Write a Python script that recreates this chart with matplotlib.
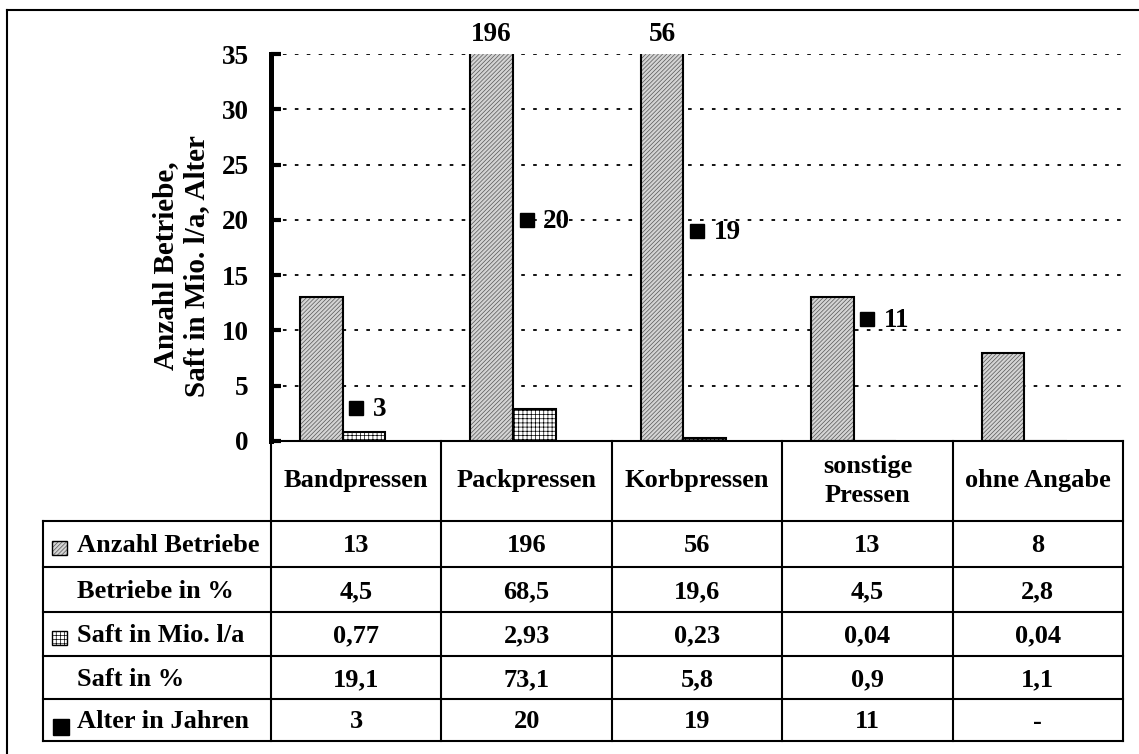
import matplotlib.pyplot as plt
import numpy as np
from matplotlib.patches import Rectangle
from matplotlib.lines import Line2D
from matplotlib import transforms

# data
categories = ['Bandpressen', 'Packpressen', 'Korbpressen', 'sonstige\nPressen', 'ohne Angabe']
anzahl = [13, 196, 56, 13, 8]
betriebe_pct = [4.5, 68.5, 19.6, 4.5, 2.8]
saft = [0.77, 2.93, 0.23, 0.04, 0.04]
saft_pct = [19.1, 73.1, 5.8, 0.9, 1.1]
alter = [3, 20, 19, 11, np.nan]
yticks = [0, 5, 10, 15, 20, 25, 30, 35]
row_labels = ['Anzahl Betriebe', 'Betriebe in %', 'Saft in Mio. l/a', 'Saft in %', 'Alter in Jahren']

plt.rcParams['font.family'] = ['Liberation Serif', 'DejaVu Serif']
plt.rcParams['font.weight'] = 'bold'
plt.rcParams['hatch.linewidth'] = 0.5

W, H = 1139, 754
fig = plt.figure(figsize=(W / 100, H / 100), dpi=100)


def fx(px):
    return px / W


def fy(py):
    return 1 - py / H


ax = fig.add_axes([fx(271), fy(441), fx(1123) - fx(271), fy(54) - fy(441)])
ax.set_xlim(-0.5, 4.5)
ax.set_ylim(0, 35)
x = np.arange(len(categories))
bw = 0.25

# grid
ax.set_yticks(yticks)
ax.yaxis.grid(True, linestyle=(0, (2.0, 4.6)), linewidth=1.3, color='black')
ax.set_axisbelow(True)

# bars (hatch drawn first, black outline on top)
pat_a = dict(facecolor='#d4d4d4', edgecolor='#555555', hatch='////////', linewidth=0)
pat_s = dict(facecolor='white', edgecolor='black', hatch='++++', linewidth=0)
ax.bar(x - 0.33, anzahl, bw, align='edge', **pat_a)
ax.bar(x - 0.33, anzahl, bw, align='edge', fill=False, edgecolor='black', linewidth=1.5)
ax.bar(x - 0.08, saft, bw, align='edge', **pat_s)
ax.bar(x - 0.08, saft, bw, align='edge', fill=False, edgecolor='black', linewidth=1.5)

# values above clipped bars
for xi, v in zip(x, anzahl):
    if v > 35:
        ax.annotate(str(v), (xi - 0.33 + bw / 2, 35), xytext=(0, 5), textcoords='offset points',
                    ha='center', va='bottom', fontsize=19.5, annotation_clip=False)

# Alter markers
ax.plot(x, alter, 's', color='black', markersize=10, zorder=4)
for xi, v in zip(x, alter):
    if not np.isnan(v):
        ax.annotate('%d' % v, (xi, v), xytext=(12, -1), textcoords='offset points',
                    ha='left', va='center', fontsize=19.5)

for s in ['top', 'right']:
    ax.spines[s].set_visible(False)
ax.spines['left'].set_linewidth(3.6)
ax.spines['bottom'].set_linewidth(1.5)
ax.set_xticks([])
ax.tick_params(axis='y', direction='in', length=7, width=3, pad=16, labelsize=19.5)

fig.text(fx(181), fy(266), 'Anzahl Betriebe,\nSaft in Mio. l/a, Alter', rotation=90,
         ha='center', va='center', fontsize=21, linespacing=1.2)

# table below the chart
tab = fig.add_axes([0, 0, 1, 1])
tab.set_xlim(0, W)
tab.set_ylim(H, 0)
tab.axis('off')
bt = transforms.blended_transform_factory(ax.transData, tab.transData)

rows_y = [441, 521, 567, 612, 656, 699, 741]
lw = 1.5
for y in rows_y[1:]:
    tab.plot([43, 1123], [y, y], color='black', lw=lw)
tab.plot([43, 43], [rows_y[1], rows_y[-1]], color='black', lw=lw)
for i in range(len(categories) + 1):
    tab.plot([i - 0.5, i - 0.5], [rows_y[0], rows_y[-1]], color='black', lw=lw, transform=bt)

for i, c in enumerate(categories):
    tab.text(i, (rows_y[0] + rows_y[1]) / 2, c, transform=bt, ha='center', va='center',
             fontsize=19, linespacing=1.3)


def fmt(v, nd):
    if isinstance(v, float) and np.isnan(v):
        return '-'
    return ('%.*f' % (nd, v)).replace('.', ',')


rows = [
    [fmt(v, 0) for v in anzahl],
    [fmt(v, 1) for v in betriebe_pct],
    [fmt(v, 2) for v in saft],
    [fmt(v, 1) for v in saft_pct],
    [fmt(v, 0) for v in alter],
]
row_mid = [(rows_y[r + 1] + rows_y[r + 2]) / 2 for r in range(len(row_labels))]
for r, (lab, vals) in enumerate(zip(row_labels, rows)):
    yc = row_mid[r] + 2
    tab.text(77, yc, lab, ha='left', va='center', fontsize=19)
    for i, v in enumerate(vals):
        tab.text(i, yc, v, transform=bt, ha='center', va='center', fontsize=19)

# legend keys in the table
tab.add_patch(Rectangle((52, row_mid[0] - 3), 15, 14, **pat_a))
tab.add_patch(Rectangle((52, row_mid[0] - 3), 15, 14, fill=False, edgecolor='black', lw=1))
tab.add_patch(Rectangle((52, row_mid[2] - 3), 15, 14, **pat_s))
tab.add_patch(Rectangle((52, row_mid[2] - 3), 15, 14, fill=False, edgecolor='black', lw=1))
tab.add_patch(Rectangle((53, row_mid[4] - 1), 16, 16, color='black'))

# outer frame (only top and left visible)
tab.add_line(Line2D([7, 7], [10, H], color='black', lw=1.5))
tab.add_line(Line2D([7, W], [10, 10], color='black', lw=1.5))

fig.savefig('out.png', dpi=100)
